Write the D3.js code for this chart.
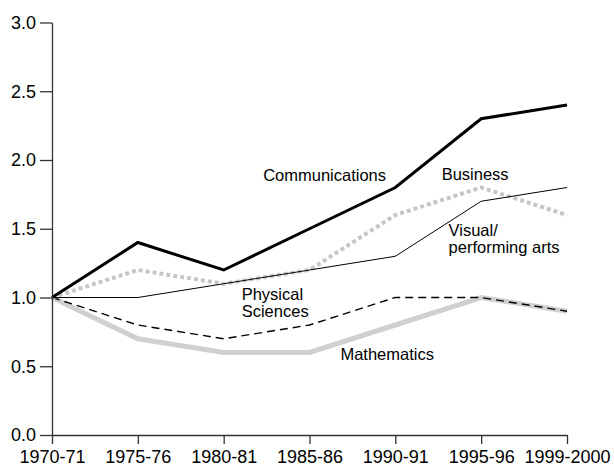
<!DOCTYPE html>
<html lang="en">
<head>
    <meta charset="UTF-8" />
    <title>Degrees relative to 1970-71</title>
    <script src="https://d3js.org/d3.v7.js"></script>
    <style>
        body { margin: 0; background: #fff; }
        text { font-family: "Liberation Sans", Arial, Helvetica, sans-serif; }
    </style>
</head>
<body>
    <script>
        var w = 614;
        var h = 476;

        // category labels along the bottom
        var years = ["1970-71", "1975-76", "1980-81", "1985-86", "1990-91", "1995-96", "1999-2000"];
        var yTicks = [0, 0.5, 1, 1.5, 2, 2.5, 3];

        // each series (index 1970-71 = 1.0)
        var communications = [1.0, 1.4, 1.2, 1.5, 1.8, 2.3, 2.4];
        var business = [1.0, 1.2, 1.1, 1.2, 1.6, 1.8, 1.6];
        var visualArts = [1.0, 1.0, 1.1, 1.2, 1.3, 1.7, 1.8];
        var physicalSciences = [1.0, 0.8, 0.7, 0.8, 1.0, 1.0, 0.9];
        var mathematics = [1.0, 0.7, 0.6, 0.6, 0.8, 1.0, 0.9];

        var xScale = d3.scalePoint()
            .domain(years)
            .range([52, 567]);

        var yScale = d3.scaleLinear()
            .domain([0, 3])
            .range([435, 22.5]);

        // fractional index -> x, for placing the text labels
        var xIdx = d3.scaleLinear()
            .domain([0, years.length - 1])
            .range([52, 567]);

        var svg = d3.select("body")
            .append("svg")
            .attr("width", w)
            .attr("height", h);

        // draw order matters: grey under, black on top
        var series = [
            { name: "Mathematics", values: mathematics, color: "#d0d0d0", width: 5, dash: null },
            { name: "Physical Sciences", values: physicalSciences, color: "#000", width: 1.4, dash: "8,5" },
            { name: "Business", values: business, color: "#c6c6c6", width: 4, dash: "4,3" },
            { name: "Visual/performing arts", values: visualArts, color: "#000", width: 1, dash: null },
            { name: "Communications", values: communications, color: "#000", width: 3, dash: null }
        ];

        var line = d3.line()
            .x(function (d, i) { return xScale(years[i]); })
            .y(function (d) { return yScale(d); });

        svg.selectAll("path.series")
            .data(series)
            .enter()
            .append("path")
            .attr("class", "series")
            .attr("d", function (d) { return line(d.values); })
            .attr("fill", "none")
            .attr("stroke", function (d) { return d.color; })
            .attr("stroke-width", function (d) { return d.width; })
            .attr("stroke-dasharray", function (d) { return d.dash; })
            .attr("stroke-linejoin", "miter");

        // axes
        var xAxis = svg.append("g")
            .attr("transform", "translate(0," + yScale(0) + ")")
            .call(d3.axisBottom(xScale).tickSize(9).tickSizeOuter(0).tickPadding(6));

        var yAxis = svg.append("g")
            .attr("transform", "translate(" + xScale(years[0]) + ",0)")
            .call(d3.axisLeft(yScale).tickValues(yTicks).tickSize(12).tickSizeOuter(0).tickPadding(4)
                .tickFormat(d3.format(".1f")));

        [xAxis, yAxis].forEach(function (g) {
            g.selectAll("path, line").attr("stroke", "#333").attr("stroke-width", 1.3);
            g.selectAll("text")
                .attr("fill", "#000")
                .style("font-size", "18px")
                .style("font-family", "'Liberation Sans', Arial, sans-serif");
        });

        // series labels, placed in data space
        var labels = [
            { lines: ["Communications"], at: 2.46, v: 1.845 },
            { lines: ["Business"], at: 4.54, v: 1.855 },
            { lines: ["Visual/", "performing arts"], at: 4.62, v: 1.45 },
            { lines: ["Physical", "Sciences"], at: 2.21, v: 0.985 },
            { lines: ["Mathematics"], at: 3.36, v: 0.545 }
        ];

        // one text per line so the lines can sit tight like the original
        labels.forEach(function (lb) {
            lb.lines.forEach(function (s, i) {
                svg.append("text")
                    .attr("x", xIdx(lb.at))
                    .attr("y", yScale(lb.v) + i * 17)
                    .attr("fill", "#000")
                    .style("font-size", "16.5px")
                    .text(s);
            });
        });
    </script>
</body>
</html>
